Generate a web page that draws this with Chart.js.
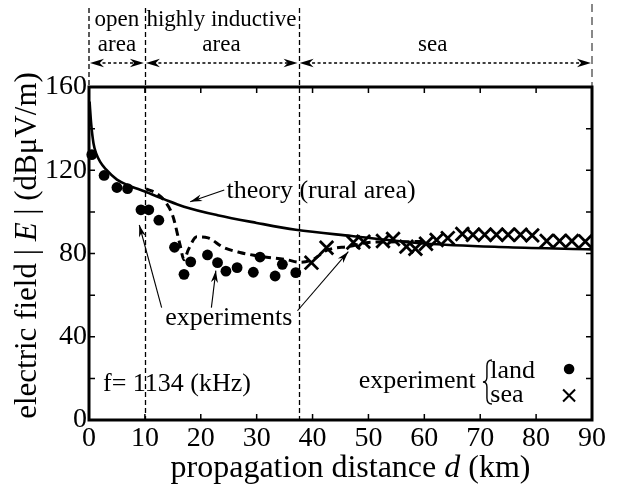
<!DOCTYPE html>
<html><head><meta charset="utf-8">
<script src="https://cdn.jsdelivr.net/npm/chart.js@4/dist/chart.umd.min.js"></script>
<style>html,body{margin:0;padding:0;background:#fff;}canvas{display:block;}</style>
</head><body>
<canvas id="c" width="618" height="488"></canvas>
<script>
// ---- data ----
const landX = [0.5, 2.7, 5.0, 6.9, 9.3, 10.7, 12.5, 15.3, 17.0, 18.2, 21.2, 23.0, 24.5, 26.5, 29.4, 30.6, 33.3, 34.6, 37.0];
const landY = [127.5, 117.5, 111.7, 111.2, 101, 101, 96, 83, 70, 76, 79.3, 75.6, 71.5, 73.2, 71, 78.3, 69.2, 74.8, 70.8];
const seaX = [39.8, 42.5, 47.3, 49.1, 52.6, 54.4, 56.8, 58.4, 60.3, 62.2, 64.2, 66.8, 68.7, 70.8, 72.9, 75.0, 77.2, 79.3, 81.9, 84.2, 86.4, 88.8];
const seaY = [75.6, 82.8, 85.3, 85.7, 86.0, 87.0, 83.3, 82.3, 84.7, 86.5, 87.4, 89.4, 89.0, 89.0, 89.0, 89.0, 89.0, 88.7, 86.0, 86.0, 86.0, 85.8];
const theoryX = [0.1, 0.4, 0.8, 1.3, 2.0, 3.0, 5.0, 7.0, 10, 13.5, 17, 23, 30, 37, 47, 60, 75, 90];
const theoryY = [153, 142, 133, 128, 124, 120.5, 115.5, 112.8, 109.8, 106, 102.5, 98.4, 94.7, 91.4, 88.4, 84.8, 83, 82];
const trendX = [10.2, 12, 13.6, 15, 16.3, 17, 17.8, 19.3, 21.3, 24, 27, 31, 35.4, 37.7, 40, 42.5, 46.7, 50, 55, 60];
const trendY = [111, 109, 105, 98, 84, 77, 82, 88, 87.5, 83, 80.5, 78.5, 77, 75.8, 77, 81.5, 83.5, 85.3, 85.6, 85.8];
const xTicks = [0, 10, 20, 30, 40, 50, 60, 70, 80, 90];
const yTicks = [0, 20, 40, 60, 80, 100, 120, 140, 160];
const yLabels = [0, 40, 80, 120, 160];
const regionBounds = [0, 10, 37.5, 90];
const regionNames = [['open', 'area'], ['highly inductive', 'area'], ['', 'sea']];
const regionLabelX = [5, 23.7, 61.5];

const SERIF = '"Liberation Serif", "Times New Roman", serif';
const pts = (xs, ys) => xs.map((x, i) => ({x, y: ys[i]}));

function arrowHead(ctx, x1, y1, x2, y2, len, hw) {
  const a = Math.atan2(y2 - y1, x2 - x1);
  ctx.save();
  ctx.translate(x2, y2); ctx.rotate(a);
  ctx.beginPath();
  ctx.moveTo(0, 0); ctx.lineTo(-len, -hw); ctx.lineTo(-len * 0.7, 0); ctx.lineTo(-len, hw);
  ctx.closePath(); ctx.fill();
  ctx.restore();
}
function rich(ctx, parts, x, y, size, align) {
  const f = it => (it ? 'italic ' : '') + size + 'px ' + SERIF;
  let w = 0;
  parts.forEach(p => { ctx.font = f(p.i); w += ctx.measureText(p.t).width; });
  let cx = align === 'center' ? x - w / 2 : (align === 'right' ? x - w : x);
  ctx.textAlign = 'left'; ctx.textBaseline = 'middle';
  parts.forEach(p => { ctx.font = f(p.i); ctx.fillText(p.t, cx, y); cx += ctx.measureText(p.t).width; });
}

const deco = {
  id: 'deco',
  beforeDatasetsDraw(chart) {
    const {ctx, chartArea: ca, scales: {x: xs}} = chart;
    ctx.save();
    ctx.strokeStyle = '#000'; ctx.lineWidth = 1.3; ctx.setLineDash([5, 3]);
    [10, 37.5].forEach(v => {
      const px = Math.round(xs.getPixelForValue(v)) + 0.5;
      ctx.beginPath(); ctx.moveTo(px, 8); ctx.lineTo(px, ca.bottom); ctx.stroke();
    });
    const p0 = xs.getPixelForValue(0);
    ctx.beginPath(); ctx.moveTo(p0, 8); ctx.lineTo(p0, ca.top); ctx.stroke();
    ctx.strokeStyle = '#888'; ctx.lineWidth = 2; ctx.setLineDash([8, 5]);
    const p90 = xs.getPixelForValue(90);
    ctx.beginPath(); ctx.moveTo(p90, 4); ctx.lineTo(p90, ca.top); ctx.stroke();
    ctx.restore();
  },
  afterDatasetsDraw(chart) {
    const {ctx, chartArea: ca, scales: {x: xs, y: ys}} = chart;
    const X = v => xs.getPixelForValue(v), Y = v => ys.getPixelForValue(v);
    ctx.save();
    ctx.setLineDash([]);
    ctx.strokeStyle = '#000'; ctx.fillStyle = '#000';
    // frame
    ctx.lineWidth = 3;
    ctx.strokeRect(ca.left, ca.top, ca.right - ca.left, ca.bottom - ca.top);
    // inward ticks
    ctx.lineWidth = 1.5;
    xTicks.forEach(v => {
      const px = X(v);
      ctx.beginPath(); ctx.moveTo(px, ca.bottom); ctx.lineTo(px, ca.bottom - 6);
      ctx.moveTo(px, ca.top); ctx.lineTo(px, ca.top + 6); ctx.stroke();
    });
    yTicks.forEach(v => {
      const py = Y(v);
      ctx.beginPath(); ctx.moveTo(ca.left, py); ctx.lineTo(ca.left + 6, py);
      ctx.moveTo(ca.right, py); ctx.lineTo(ca.right - 6, py); ctx.stroke();
    });
    // region arrows and labels
    const ay = ca.top - 24;
    for (let i = 0; i < 3; i++) {
      const a = X(regionBounds[i]), b = X(regionBounds[i + 1]);
      ctx.lineWidth = 1.3; ctx.setLineDash([3, 2.5]);
      ctx.beginPath(); ctx.moveTo(a + 8, ay); ctx.lineTo(b - 8, ay); ctx.stroke();
      ctx.setLineDash([]);
      arrowHead(ctx, b - 5, ay, a + 1, ay, 14, 4.2);
      arrowHead(ctx, a + 5, ay, b - 1, ay, 14, 4.2);
      const cx = X(regionLabelX[i]);
      rich(ctx, [{t: regionNames[i][0]}], cx, ca.top - 67, 23, 'center');
      rich(ctx, [{t: regionNames[i][1]}], cx, ca.top - 42, 23, 'center');
    }
    // theory annotation
    ctx.lineWidth = 1.1;
    const line = (x1, y1, x2, y2) => {
      ctx.beginPath(); ctx.moveTo(X(x1), Y(y1)); ctx.lineTo(X(x2), Y(y2)); ctx.stroke();
      arrowHead(ctx, X(x1), Y(y1), X(x2), Y(y2), 12, 3.5);
    };
    rich(ctx, [{t: 'theory (rural area)'}], X(24.6), Y(110), 26, 'left');
    line(24.2, 110.5, 18.1, 104.9);
    rich(ctx, [{t: 'experiments'}], X(25.0), Y(49), 26, 'center');
    line(13.0, 54, 9.0, 93.7);
    line(21.9, 54, 22.7, 71.8);
    line(37.3, 52.5, 46.4, 80.9);
    rich(ctx, [{t: 'f= 1134 (kHz)'}], X(2.5), Y(17), 26, 'left');
    // legend
    rich(ctx, [{t: 'experiment'}], X(69.2), Y(18.7), 26, 'right');
    const bx = X(71.2), bt = Y(28.8), bb = Y(7.7), bm = (bt + bb) / 2;
    ctx.lineWidth = 1.4;
    ctx.beginPath();
    ctx.moveTo(bx + 5, bt); ctx.quadraticCurveTo(bx, bt, bx, bt + 6);
    ctx.lineTo(bx, bm - 5); ctx.quadraticCurveTo(bx, bm, bx - 4, bm);
    ctx.quadraticCurveTo(bx, bm, bx, bm + 5);
    ctx.lineTo(bx, bb - 6); ctx.quadraticCurveTo(bx, bb, bx + 5, bb);
    ctx.stroke();
    rich(ctx, [{t: 'land'}], X(71.8), Y(23.5), 26, 'left');
    rich(ctx, [{t: 'sea'}], X(71.8), Y(12), 26, 'left');
    const lx = X(85.9);
    ctx.beginPath(); ctx.arc(lx, Y(24.5), 5.3, 0, Math.PI * 2); ctx.fill();
    ctx.lineWidth = 2; const cy = Y(11.8);
    ctx.beginPath(); ctx.moveTo(lx - 6, cy - 6); ctx.lineTo(lx + 6, cy + 6);
    ctx.moveTo(lx - 6, cy + 6); ctx.lineTo(lx + 6, cy - 6); ctx.stroke();
    // axis titles
    rich(ctx, [{t: 'propagation distance '}, {t: 'd', i: true}, {t: ' (km)'}], (ca.left + ca.right) / 2 + 10, 469, 32, 'center');
    ctx.save();
    ctx.translate(28, (ca.top + ca.bottom) / 2 - 8);
    ctx.rotate(-Math.PI / 2);
    rich(ctx, [{t: 'electric field | '}, {t: 'E', i: true}, {t: ' | (dBμV/m)'}], 0, 0, 31, 'center');
    ctx.restore();
    ctx.restore();
  }
};

new Chart(document.getElementById('c'), {
  type: 'scatter',
  data: {
    datasets: [
      {type: 'line', data: pts(theoryX, theoryY), borderColor: '#000', borderWidth: 2.6, pointRadius: 0, fill: false, cubicInterpolationMode: 'monotone'},
      {type: 'line', data: pts(trendX, trendY), borderColor: '#000', borderWidth: 3, borderDash: [8, 5], pointRadius: 0, fill: false, cubicInterpolationMode: 'monotone'},
      {data: pts(landX, landY), pointStyle: 'circle', pointRadius: 5.4, backgroundColor: '#000', borderColor: '#000', borderWidth: 0, clip: false},
      {data: pts(seaX, seaY), pointStyle: 'crossRot', pointRadius: 9.5, borderColor: '#000', borderWidth: 2.8, clip: false}
    ]
  },
  options: {
    responsive: false, animation: false, events: [],
    layout: {padding: {top: 87, right: 26, left: 0, bottom: 0}},
    plugins: {legend: {display: false}, tooltip: {enabled: false}},
    scales: {
      x: {type: 'linear', min: 0, max: 90,
        afterBuildTicks: s => { s.ticks = xTicks.map(v => ({value: v})); },
        afterFit: s => { s.height = 68; },
        ticks: {autoSkip: false, maxRotation: 0, padding: 2, color: '#000', font: {family: SERIF, size: 28}},
        grid: {display: false, drawTicks: false}, border: {display: false}},
      y: {type: 'linear', min: 0, max: 160,
        afterBuildTicks: s => { s.ticks = yLabels.map(v => ({value: v})); },
        afterFit: s => { s.width = 89; },
        ticks: {autoSkip: false, padding: 2, color: '#000', font: {family: SERIF, size: 28}},
        grid: {display: false, drawTicks: false}, border: {display: false}}
    }
  },
  plugins: [deco]
});
</script>
</body></html>
